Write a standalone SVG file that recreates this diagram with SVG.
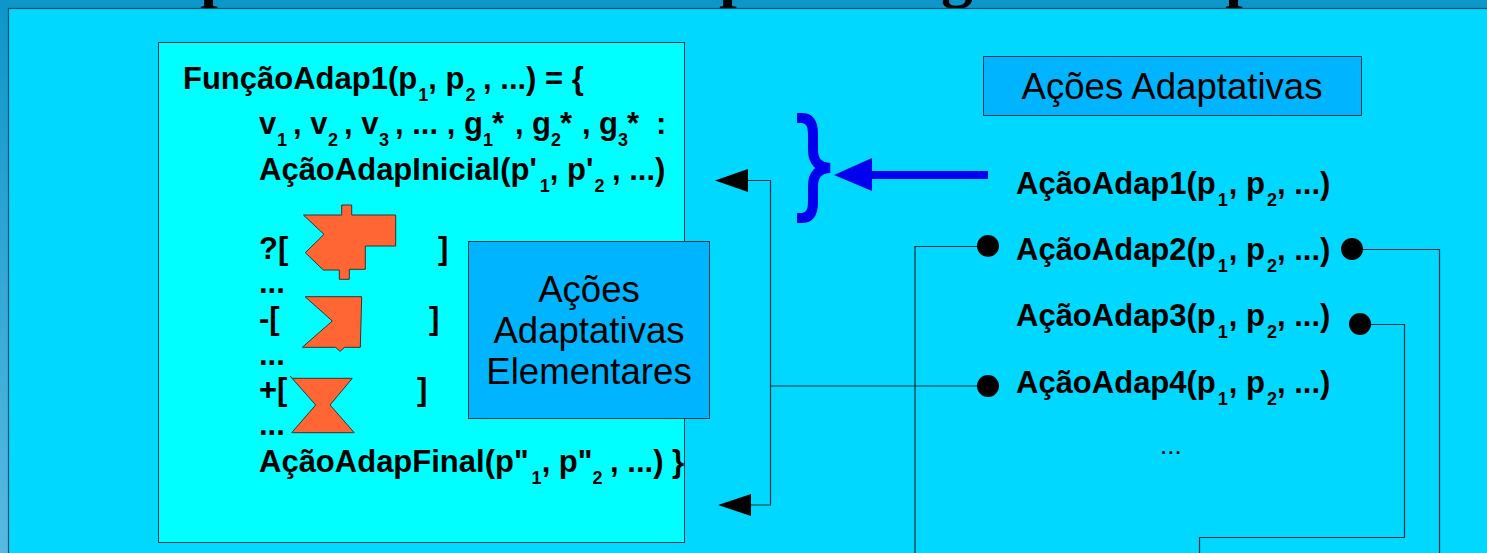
<svg xmlns="http://www.w3.org/2000/svg" width="1487" height="553" viewBox="0 0 1487 553">
<style>
text{font-family:"Liberation Sans",Arial,sans-serif;fill:#000}
.b{font-weight:700;font-size:31px}
.s{font-size:18px}
.r{font-size:36.6px;text-anchor:middle}
.box{stroke:#063a4a;stroke-width:1}
.blk{fill:none;stroke:#04303c;stroke-width:1.2}
.org{fill:#ff6633;stroke:#333;stroke-width:1}
.t{font-family:"Liberation Serif",serif;font-weight:700;font-size:64px}
</style>
<defs>
<linearGradient id="bg" x1="0" y1="0" x2="0" y2="1"><stop offset="0" stop-color="#0d96ca"/><stop offset="1" stop-color="#58b9e2"/></linearGradient>
</defs>
<rect width="1487" height="553" fill="url(#bg)"/>
<g id="title-fragments">
<text class="t" x="200" y="-5">p</text>
<text class="t" x="719" y="-5">p</text>
<text class="t" x="941" y="-5">g</text>
<text class="t" x="1225" y="-5">p</text>
</g>
<rect id="panel" x="8.5" y="8.5" width="1490" height="560" fill="#00d8ff" stroke="#06506a" stroke-width="1.2"/>
<g id="node-funcao">
<rect class="box" x="158.5" y="42.5" width="526" height="500" fill="#00ffff"/>
<text class="b" x="183" y="89" xml:space="preserve">FunçãoAdap1(p<tspan class="s" dx="1" dy="12">1</tspan><tspan dy="-12">, p</tspan><tspan class="s" dx="1" dy="12">2</tspan><tspan dx="-1" dy="-12"> , ...) = {</tspan></text>
<text class="b" y="134" xml:space="preserve"><tspan x="259">v</tspan><tspan class="s" x="277" dy="12">1</tspan><tspan x="293" dy="-12">, v</tspan><tspan class="s" x="328" dy="12">2</tspan><tspan x="344" dy="-12">, v</tspan><tspan class="s" x="379" dy="12">3</tspan><tspan x="395" dy="-12">, ... ,</tspan><tspan x="464">g</tspan><tspan class="s" x="483" dy="12">1</tspan><tspan x="492" dy="-12">*</tspan><tspan x="515">,</tspan><tspan x="532">g</tspan><tspan class="s" x="551" dy="12">2</tspan><tspan x="560" dy="-12">*</tspan><tspan x="582">,</tspan><tspan x="599">g</tspan><tspan class="s" x="618" dy="12">3</tspan><tspan x="627" dy="-12">*</tspan><tspan x="656">:</tspan></text>
<text class="b" x="259" y="180" xml:space="preserve">AçãoAdapInicial(p'<tspan class="s" dx="3" dy="12">1</tspan><tspan dy="-12">, p'</tspan><tspan class="s" dx="1" dy="12">2</tspan><tspan dx="-1" dy="-12"> , ...)</tspan></text>
<text class="b" x="259" y="259">?[</text><text class="b" x="438" y="259">]</text>
<text class="b" x="259" y="293">...</text>
<text class="b" x="259" y="329">-[</text><text class="b" x="429" y="329">]</text>
<text class="b" x="259" y="365">...</text>
<text class="b" x="259" y="400">+[</text><text class="b" x="417" y="400">]</text>
<text class="b" x="259" y="435">...</text>
<text class="b" x="259" y="472" xml:space="preserve">AçãoAdapFinal(p"<tspan class="s" dx="3" dy="12">1</tspan><tspan dy="-12">, p"</tspan><tspan class="s" dy="12">2</tspan><tspan dx="-1" dy="-12"> , ...) }</tspan></text>
<polygon class="org" points="303.3,215 341.7,215 341.7,205 351.7,205 351.7,215 395.7,215 395.7,246 365.3,246 365.3,269.3 349.3,269.3 349.3,279.3 339.3,279.3 339.3,270 323.3,270 305.3,252.7 324,234.3"/>
<polygon class="org" points="305,296.7 361.7,296.7 360.3,347.3 344.7,347.3 340,351.3 335.7,347.3 302.3,347.3 332.3,321"/>
<polygon class="org" points="290,376 292.7,378.3 352.3,378.3 330,405 354.3,432.7 291.7,432.7 315.7,405"/>
</g>
<g id="node-elementares">
<rect class="box" x="468.5" y="241.5" width="241" height="177" fill="#00b4ff"/>
<text class="r" x="589" y="302">Ações</text>
<text class="r" x="589" y="343">Adaptativas</text>
<text class="r" x="589" y="384">Elementares</text>
</g>
<g id="node-acoes">
<rect class="box" x="983.5" y="56.5" width="378" height="59" fill="#00b4ff"/>
<text class="r" x="1172" y="99">Ações Adaptativas</text>
</g>
<g id="node-lista">
<text class="b" x="1016" y="194" xml:space="preserve">AçãoAdap1(p<tspan class="s" dx="2" dy="12">1</tspan><tspan dx="1" dy="-12">, p</tspan><tspan class="s" dx="2" dy="12">2</tspan><tspan dy="-12">, ...)</tspan></text>
<text class="b" x="1016" y="260" xml:space="preserve">AçãoAdap2(p<tspan class="s" dx="2" dy="12">1</tspan><tspan dx="1" dy="-12">, p</tspan><tspan class="s" dx="2" dy="12">2</tspan><tspan dy="-12">, ...)</tspan></text>
<text class="b" x="1016" y="326" xml:space="preserve">AçãoAdap3(p<tspan class="s" dx="2" dy="12">1</tspan><tspan dx="1" dy="-12">, p</tspan><tspan class="s" dx="2" dy="12">2</tspan><tspan dy="-12">, ...)</tspan></text>
<text class="b" x="1016" y="393" xml:space="preserve">AçãoAdap4(p<tspan class="s" dx="2" dy="12">1</tspan><tspan dx="1" dy="-12">, p</tspan><tspan class="s" dx="2" dy="12">2</tspan><tspan dy="-12">, ...)</tspan></text>
<text x="1160" y="454" font-size="26">...</text>
</g>
<g id="connectors">
<path class="blk" d="M748,180.5H770.5V505H751"/>
<path class="blk" d="M770.5,386H988"/>
<path class="blk" d="M988,246.5H915V553"/>
<path class="blk" d="M1352,249.5H1439.5V553"/>
<path class="blk" d="M1360,324.5H1404.5V537.5H1199.5V553"/>
<polygon points="715,180.5 748,169 748,192"/>
<polygon points="718,505 751,494 751,516"/>
<circle cx="988" cy="246" r="11"/>
<circle cx="988" cy="386" r="11"/>
<circle cx="1352" cy="249" r="11"/>
<circle cx="1360" cy="324" r="11"/>
<path d="M797,118H802Q813,118 813,134V150Q813,167 830,168Q813,169 813,186V202Q813,218 802,218H797" fill="none" stroke="#0000ee" stroke-width="10"/>
<path d="M988,175H872" fill="none" stroke="#0000ee" stroke-width="8"/>
<polygon points="834,175 872,158 872,191" fill="#0000ee"/>
</g>
</svg>
